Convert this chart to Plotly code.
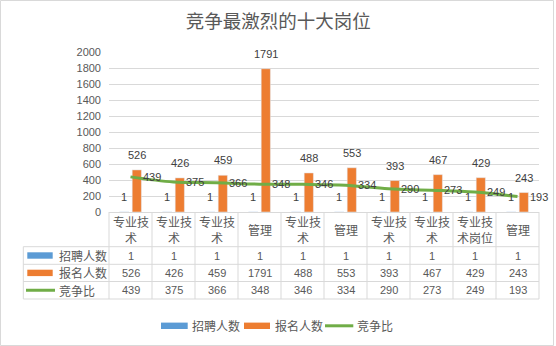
import plotly.graph_objects as go

# ---------------- data ----------------
categories = ["专业技术", "专业技术", "专业技术", "管理", "专业技术",
              "管理", "专业技术", "专业技术", "专业技术岗位", "管理"]
recruit = [1, 1, 1, 1, 1, 1, 1, 1, 1, 1]
applicants = [526, 426, 459, 1791, 488, 553, 393, 467, 429, 243]
ratio = [439, 375, 366, 348, 346, 334, 290, 273, 249, 193]
series_names = ["招聘人数", "报名人数", "竞争比"]
y_ticks = [0, 200, 400, 600, 800, 1000, 1200, 1400, 1600, 1800, 2000]
title_text = "竞争最激烈的十大岗位"

# ---------------- style ----------------
W, H = 556, 346
L, R, T, B = 109, 17, 52, 134
PW, PH = W - L - R, H - T - B
BLUE, ORANGE, GREEN = "#5b9bd5", "#ed7d31", "#70ad47"
GRID = "#d9d9d9"
TXT = "#595959"
LBL = "#404040"
NUMF = "Liberation Sans, Noto Sans CJK SC, sans-serif"
CJKF = "Noto Sans CJK SC, sans-serif"
BARGAP, BARGROUPGAP = 0.414, 0.27
slot = (1 - BARGAP) / 2


def px(p):
    return (p - L) / PW


def py(p):
    return (H - B - p) / PH


def wrap(s, n=3):
    return "<br>".join(s[i:i + n] for i in range(0, len(s), n))


idx = list(range(len(categories)))
n = len(categories)

fig = go.Figure()
fig.add_bar(x=idx, y=recruit, name=series_names[0], marker_color=BLUE, hoverinfo="skip")
fig.add_bar(x=idx, y=applicants, name=series_names[1], marker_color=ORANGE, hoverinfo="skip")
fig.add_scatter(x=idx, y=ratio, name=series_names[2], mode="lines",
                line=dict(color=GREEN, width=3, shape="spline"), hoverinfo="skip")

ann = []
shapes = []

# data labels
for i in idx:
    ann.append(dict(x=i - slot / 2, y=recruit[i], xref="x", yref="y", text=str(recruit[i]),
                    showarrow=False, yshift=15, font=dict(family=NUMF, size=11, color=LBL)))
    ann.append(dict(x=i + slot / 2, y=applicants[i], xref="x", yref="y", text=str(applicants[i]),
                    showarrow=False, yshift=15, font=dict(family=NUMF, size=11, color=LBL)))
    ann.append(dict(x=i, y=ratio[i], xref="x", yref="y", text=str(ratio[i]),
                    showarrow=False, xanchor="left", xshift=10, yanchor="middle",
                    font=dict(family=NUMF, size=11, color=LBL)))

# ---------------- data table ----------------
row_lines = [246.7, 264.3, 281.5, 299]
row_centers = [(row_lines[k] + row_lines[k + 1]) / 2 for k in range(3)]
table_left = 23.3

# category labels
for i in idx:
    ann.append(dict(x=i, y=py(229.5), xref="x", yref="paper", text=wrap(categories[i]),
                    showarrow=False, yanchor="middle",
                    font=dict(family=CJKF, size=12, color=TXT)))

# column boundaries
for k in range(n + 1):
    xb = px(L + PW * k / n)
    shapes.append(dict(type="line", xref="paper", yref="paper", x0=xb, x1=xb,
                       y0=py(212), y1=py(row_lines[-1]), line=dict(color=GRID, width=1)))
shapes.append(dict(type="line", xref="paper", yref="paper", x0=px(table_left), x1=px(table_left),
                   y0=py(row_lines[0]), y1=py(row_lines[-1]), line=dict(color=GRID, width=1)))
for yl in row_lines:
    shapes.append(dict(type="line", xref="paper", yref="paper", x0=px(table_left), x1=1,
                       y0=py(yl), y1=py(yl), line=dict(color=GRID, width=1)))

table_values = [recruit, applicants, ratio]
colors = [BLUE, ORANGE, GREEN]
for r in range(3):
    yc = row_centers[r]
    for i in idx:
        ann.append(dict(x=i, y=py(yc), xref="x", yref="paper", text=str(table_values[r][i]),
                        showarrow=False, yanchor="middle",
                        font=dict(family=NUMF, size=11, color=TXT)))
    ann.append(dict(x=px(57), y=py(yc), xref="paper", yref="paper", text=series_names[r],
                    showarrow=False, xanchor="left", yanchor="middle",
                    font=dict(family=CJKF, size=12, color=TXT)))
    if r < 2:
        shapes.append(dict(type="rect", xref="paper", yref="paper", x0=px(27.3), x1=px(52.7),
                           y0=py(yc - 3.2), y1=py(yc + 3.2), fillcolor=colors[r], line=dict(width=0)))
    else:
        shapes.append(dict(type="line", xref="paper", yref="paper", x0=px(26), x1=px(55),
                           y0=py(yc), y1=py(yc), line=dict(color=colors[r], width=3)))

# ---------------- bottom legend ----------------
leg_y = 325.8
leg_items = [(161, 187.7, 190), (244, 270, 272.5), (325, 353.3, 354.5)]
for r, (a, b, t) in enumerate(leg_items):
    if r < 2:
        shapes.append(dict(type="rect", xref="paper", yref="paper", x0=px(a), x1=px(b),
                           y0=py(leg_y - 3.2), y1=py(leg_y + 3.2), fillcolor=colors[r], line=dict(width=0)))
    else:
        shapes.append(dict(type="line", xref="paper", yref="paper", x0=px(a), x1=px(b),
                           y0=py(leg_y), y1=py(leg_y), line=dict(color=colors[r], width=3)))
    ann.append(dict(x=px(t), y=py(leg_y), xref="paper", yref="paper", text=series_names[r],
                    showarrow=False, xanchor="left", yanchor="middle",
                    font=dict(family=CJKF, size=12, color=TXT)))

# chart border
shapes.append(dict(type="rect", xref="paper", yref="paper", x0=px(0.5), x1=px(553.5),
                   y0=py(345.5), y1=py(0.5), line=dict(color=GRID, width=1), layer="below"))

fig.update_layout(
    width=W, height=H,
    margin=dict(l=L, r=R, t=T, b=B, pad=0),
    paper_bgcolor="white", plot_bgcolor="white",
    barmode="group", bargap=BARGAP, bargroupgap=BARGROUPGAP,
    showlegend=False,
    title=dict(text=title_text, x=0.5005, xanchor="center", y=1 - 21.7 / H, yanchor="middle",
               font=dict(family=CJKF, size=18.5, color=TXT)),
    xaxis=dict(range=[-0.5, n - 0.5], showticklabels=False, showgrid=False, zeroline=False,
               showline=True, linecolor=GRID, linewidth=1, fixedrange=True),
    yaxis=dict(range=[0, 2000], tickvals=y_ticks, showgrid=True, gridcolor=GRID, gridwidth=1,
               zeroline=False, showline=False, ticks="", ticklabelstandoff=7,
               tickfont=dict(family=NUMF, size=11, color=TXT), fixedrange=True),
    annotations=ann, shapes=shapes,
)

fig.write_html("out.html")
